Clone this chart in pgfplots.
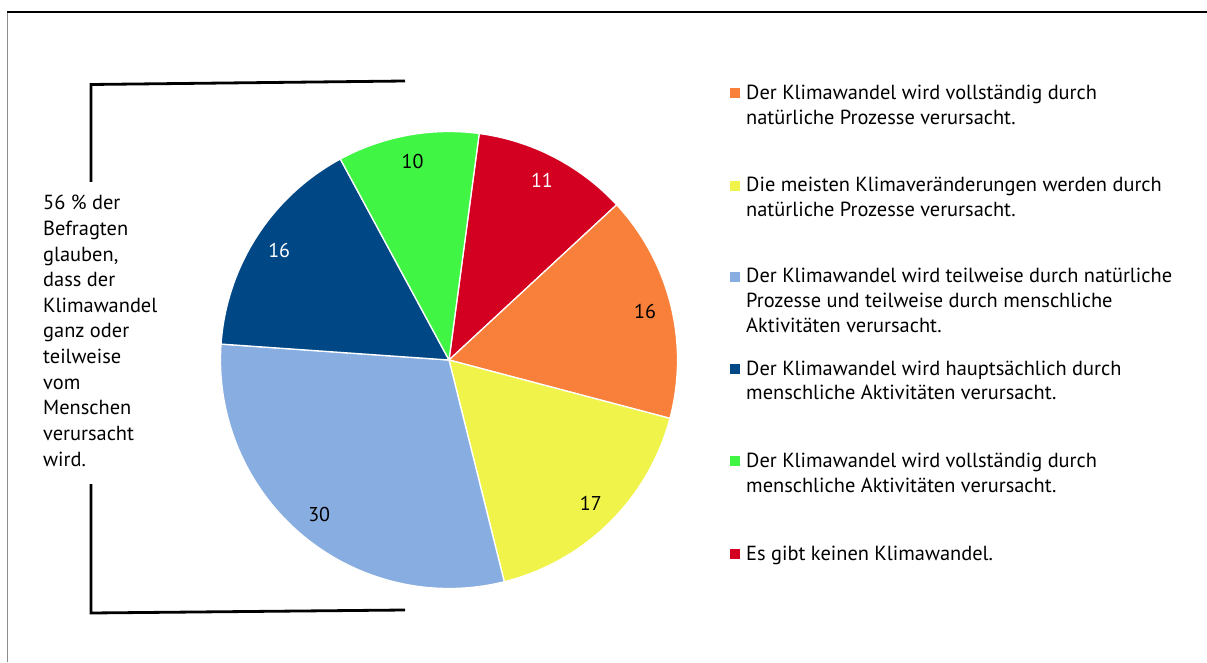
\documentclass[border=0pt]{standalone}
\usepackage{fontspec}
\setmainfont{PT Sans}
\usepackage{pgfplots}
\pgfplotsset{compat=1.18}
\definecolor{cOrange}{HTML}{F9803A}
\definecolor{cYellow}{HTML}{F0F34A}
\definecolor{cLBlue}{HTML}{88ADE0}
\definecolor{cDBlue}{HTML}{004786}
\definecolor{cGreen}{HTML}{41F545}
\definecolor{cRed}{HTML}{D40022}
\tikzset{lbl/.style={font=\fontsize{20}{24}\selectfont, inner sep=0pt},
 leg/.style={font=\fontsize{20.4}{25}\selectfont, inner sep=0pt, anchor=base west}}
\def\curang{82.4}
\newcommand\slice[3]{%
 \pgfmathsetmacro\sa{\curang}%
 \pgfmathsetmacro\sb{\curang-3.6*#1}%
 \pgfmathsetmacro\sm{(\sa+\sb)/2}%
 \pgfmathsetmacro\px{449+228.5*cos(\sa)}%
 \pgfmathsetmacro\py{302+228.5*sin(\sa)}%
 \pgfmathsetmacro\lx{449+202*cos(\sm)}%
 \pgfmathsetmacro\ly{302+202*sin(\sm)}%
 \edef\doit{\noexpand\fill[#2, draw=white, line width=1.3pt, line join=round] (axis cs:449,302) -- (axis cs:\px,\py) arc[start angle=\sa, end angle=\sb, radius=228.5] -- cycle;
 \noexpand\node[lbl, text=#3] at (axis cs:\lx,\ly) {#1};}%
 \doit
 \global\let\curang\sb}
\begin{document}
\begin{tikzpicture}
\begin{axis}[at={(0,0)}, anchor=south west, scale only axis,
 width=1207pt, height=662pt, xmin=0, xmax=1207, ymin=0, ymax=662,
 hide axis, clip=false]
% slices clockwise from the top (values in percent)
\slice{11}{cRed}{white}
\slice{16}{cOrange}{black}
\slice{17}{cYellow}{black}
\slice{30}{cLBlue}{black}
\slice{16}{cDBlue}{white}
\slice{10}{cGreen}{black}
% frame
\draw[gray!90, line width=1.5pt] (axis cs:7.5,0) -- (axis cs:7.5,650);
\draw[black, line width=1.5pt] (axis cs:7,650) -- (axis cs:1207,650);
% bracket
\draw[black, line width=2.8pt] (axis cs:405,581) -- (axis cs:91,577.5) -- (axis cs:91,480);
\draw[black, line width=2.8pt] (axis cs:91,178) -- (axis cs:91,49) -- (axis cs:405,52);
\node[leg] at (axis cs:43,452) {56 \% der};
\node[leg] at (axis cs:43,426.4) {Befragten};
\node[leg] at (axis cs:43,400.8) {glauben,};
\node[leg] at (axis cs:43,375.2) {dass der};
\node[leg] at (axis cs:43,349.6) {Klimawandel};
\node[leg] at (axis cs:43,324) {ganz oder};
\node[leg] at (axis cs:43,298.4) {teilweise};
\node[leg] at (axis cs:43,272.8) {vom};
\node[leg] at (axis cs:43,247.2) {Menschen};
\node[leg] at (axis cs:43,221.6) {verursacht};
\node[leg] at (axis cs:43,196) {wird.};
% legend
\fill[cOrange] (axis cs:730,564) rectangle (axis cs:740,574);
\node[leg] at (axis cs:746,562.5) {Der Klimawandel wird vollständig durch};
\node[leg] at (axis cs:746,537.5) {natürliche Prozesse verursacht.};
\fill[cYellow] (axis cs:730,471) rectangle (axis cs:740,481);
\node[leg] at (axis cs:746,470) {Die meisten Klimaveränderungen werden durch};
\node[leg] at (axis cs:746,445) {natürliche Prozesse verursacht.};
\fill[cLBlue] (axis cs:730,380) rectangle (axis cs:740,390);
\node[leg] at (axis cs:746,379) {Der Klimawandel wird teilweise durch natürliche};
\node[leg] at (axis cs:746,354) {Prozesse und teilweise durch menschliche};
\node[leg] at (axis cs:746,329) {Aktivitäten verursacht.};
\fill[cDBlue] (axis cs:730,288) rectangle (axis cs:740,298);
\node[leg] at (axis cs:746,287) {Der Klimawandel wird hauptsächlich durch};
\node[leg] at (axis cs:746,262) {menschliche Aktivitäten verursacht.};
\fill[cGreen] (axis cs:730,196) rectangle (axis cs:740,206);
\node[leg] at (axis cs:746,195) {Der Klimawandel wird vollständig durch};
\node[leg] at (axis cs:746,170) {menschliche Aktivitäten verursacht.};
\fill[cRed] (axis cs:730,103) rectangle (axis cs:740,113);
\node[leg] at (axis cs:746,102) {Es gibt keinen Klimawandel.};
\end{axis}
\pgfresetboundingbox
\path[use as bounding box] (0,0) rectangle (1207pt,662pt);
\end{tikzpicture}
\end{document}
